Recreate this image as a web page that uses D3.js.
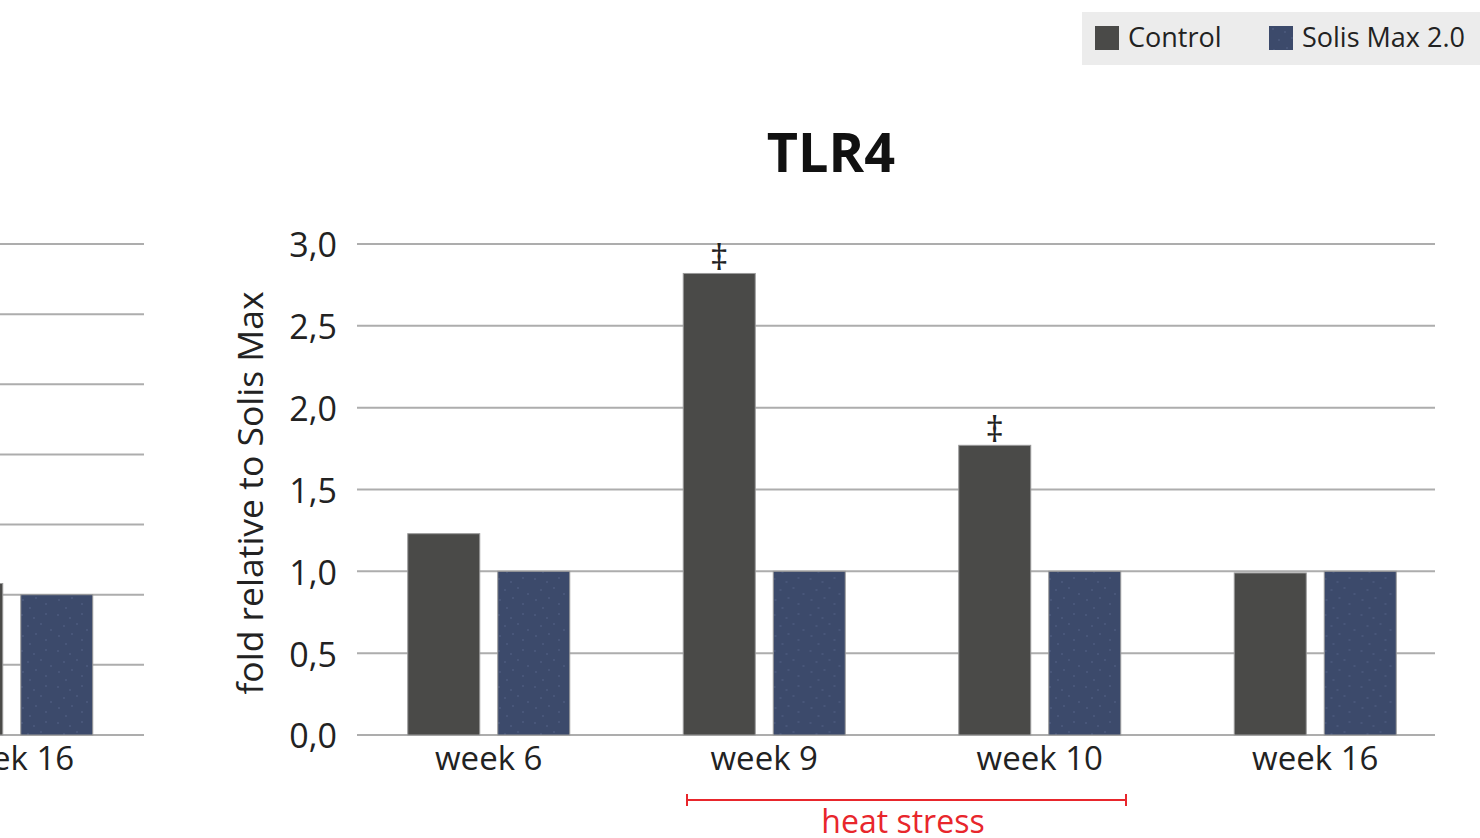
<!DOCTYPE html>
<html>
<head>
<meta charset="utf-8">
<script src="https://cdn.jsdelivr.net/npm/d3@7"></script>
<style>
  body { margin: 0; background: #fff; }
  text { font-family: "Open Sans", sans-serif; }
</style>
</head>
<body>
<div id="chart"></div>
<script>
// chart data
var weeks = ["week 6", "week 9", "week 10", "week 16"];
var controlValues = [1.23, 2.82, 1.77, 0.99];
var solisValues = [1.0, 1.0, 1.0, 1.0];
var significance = ["", "‡", "‡", ""];
var yTicks = [0, 0.5, 1.0, 1.5, 2.0, 2.5, 3.0];
var seriesNames = ["Control", "Solis Max 2.0"];

// the neighbouring chart, cut off at the left edge
var leftWeeks = ["week 16"];
var leftControl = [1.08];
var leftSolis = [1.0];
var leftTicks = [0, 0.5, 1.0, 1.5, 2.0, 2.5, 3.0, 3.5];

var svgWidth = 1480;
var svgHeight = 838;
var colors = { control: "#4a4a48", solis: "#3c4a6b" };

var svg = d3.select("#chart")
  .append("svg")
  .attr("width", svgWidth)
  .attr("height", svgHeight);

// dotted texture for the Solis bars
var defs = svg.append("defs");
var pat = defs.append("pattern")
  .attr("id", "dots")
  .attr("patternUnits", "userSpaceOnUse")
  .attr("width", 36)
  .attr("height", 36);
pat.append("rect").attr("width", 36).attr("height", 36).attr("fill", colors.solis);
var dotPos = [[4, 3], [16, 6], [28, 2], [10, 14], [23, 12], [33, 18], [5, 24], [18, 22], [28, 28], [12, 32]];
pat.selectAll("circle")
  .data(dotPos)
  .enter()
  .append("circle")
  .attr("cx", d => d[0])
  .attr("cy", d => d[1])
  .attr("r", 0.8)
  .attr("fill", "#56658a");

var y = d3.scaleLinear().domain([0, 3]).range([735, 244]);

// main chart
var x = d3.scaleBand().domain(weeks).range([351, 1453]);
var inner = d3.scaleBand().domain(["control", "solis"]).range([x.bandwidth() / 2 - 81, x.bandwidth() / 2 + 81]).paddingInner(0.2);

var main = svg.append("g");

main.append("g")
  .selectAll("line")
  .data(yTicks)
  .enter()
  .append("line")
  .attr("x1", 357)
  .attr("x2", 1435)
  .attr("y1", d => y(d))
  .attr("y2", d => y(d))
  .attr("stroke", "#adadad")
  .attr("stroke-width", 2);

var yAxis = d3.axisLeft(y)
  .tickValues(yTicks)
  .tickSize(0)
  .tickPadding(20)
  .tickFormat(d => d3.format(".1f")(d).replace(".", ","));

main.append("g")
  .attr("transform", "translate(357,2)")
  .call(yAxis)
  .call(g => g.select(".domain").remove())
  .selectAll("text")
  .attr("font-size", 34)
  .attr("font-family", "Open Sans")
  .attr("fill", "#222");

var xAxis = d3.axisBottom(x).tickSize(0).tickPadding(12);
main.append("g")
  .attr("transform", "translate(0,735)")
  .call(xAxis)
  .call(g => g.select(".domain").remove())
  .selectAll("text")
  .attr("font-size", 33)
  .attr("font-family", "Open Sans")
  .attr("fill", "#222");

var groups = main.selectAll(".grp")
  .data(weeks)
  .enter()
  .append("g")
  .attr("class", "grp")
  .attr("transform", d => `translate(${x(d)},0)`);

groups.append("rect")
  .attr("x", inner("control"))
  .attr("width", inner.bandwidth())
  .attr("y", (d, i) => y(controlValues[i]))
  .attr("height", (d, i) => y(0) - y(controlValues[i]))
  .attr("fill", colors.control)
  .attr("stroke", "#9a9a9a")
  .attr("stroke-width", 1);

groups.append("rect")
  .attr("x", inner("solis"))
  .attr("width", inner.bandwidth())
  .attr("y", (d, i) => y(solisValues[i]))
  .attr("height", (d, i) => y(0) - y(solisValues[i]))
  .attr("fill", "url(#dots)")
  .attr("stroke", "#9a9a9a")
  .attr("stroke-width", 1);

groups.append("text")
  .attr("x", inner("control") + inner.bandwidth() / 2)
  .attr("y", (d, i) => y(controlValues[i]) - 3)
  .attr("text-anchor", "middle")
  .attr("font-size", 36)
  .attr("font-family", "DejaVu Sans")
  .attr("fill", "#222")
  .text((d, i) => significance[i]);

main.append("text")
  .attr("transform", "translate(263,493) rotate(-90)")
  .attr("text-anchor", "middle")
  .attr("font-size", 35.5)
  .attr("fill", "#222")
  .text("fold relative to Solis Max");

main.append("text")
  .attr("x", 831)
  .attr("y", 172)
  .attr("text-anchor", "middle")
  .attr("font-size", 54)
  .attr("font-weight", "bold")
  .attr("fill", "#111")
  .text("TLR4");

// heat stress bracket
var hs = main.append("g").attr("stroke", "#e8262c").attr("stroke-width", 2);
hs.append("line").attr("x1", 687).attr("x2", 1126).attr("y1", 800).attr("y2", 800);
hs.append("line").attr("x1", 687).attr("x2", 687).attr("y1", 794).attr("y2", 806);
hs.append("line").attr("x1", 1126).attr("x2", 1126).attr("y1", 794).attr("y2", 806);
main.append("text")
  .attr("x", 903)
  .attr("y", 833)
  .attr("text-anchor", "middle")
  .attr("font-size", 32)
  .attr("fill", "#e8262c")
  .text("heat stress");

// left partial chart
var yLeft = d3.scaleLinear().domain([0, 3.5]).range([735, 244]);
var xLeft = d3.scaleBand().domain(leftWeeks).range([-126, 148]);
var left = svg.append("g");

left.selectAll("line")
  .data(leftTicks)
  .enter()
  .append("line")
  .attr("x1", 0)
  .attr("x2", 144)
  .attr("y1", d => yLeft(d))
  .attr("y2", d => yLeft(d))
  .attr("stroke", "#adadad")
  .attr("stroke-width", 2);

var lg = left.selectAll(".lgrp")
  .data(leftWeeks)
  .enter()
  .append("g")
  .attr("transform", d => `translate(${xLeft(d)},0)`);

lg.append("rect")
  .attr("x", inner("control"))
  .attr("width", inner.bandwidth())
  .attr("y", (d, i) => yLeft(leftControl[i]))
  .attr("height", (d, i) => yLeft(0) - yLeft(leftControl[i]))
  .attr("fill", colors.control)
  .attr("stroke", "#9a9a9a");

lg.append("rect")
  .attr("x", inner("solis"))
  .attr("width", inner.bandwidth())
  .attr("y", (d, i) => yLeft(leftSolis[i]))
  .attr("height", (d, i) => yLeft(0) - yLeft(leftSolis[i]))
  .attr("fill", "url(#dots)")
  .attr("stroke", "#9a9a9a");

left.append("g")
  .attr("transform", "translate(0,735)")
  .call(d3.axisBottom(xLeft).tickSize(0).tickPadding(12))
  .call(g => g.select(".domain").remove())
  .selectAll("text")
  .attr("font-size", 33)
  .attr("font-family", "Open Sans")
  .attr("fill", "#222");

// legend
var legend = svg.append("g");
legend.append("rect")
  .attr("x", 1082).attr("y", 12)
  .attr("width", 400).attr("height", 53)
  .attr("fill", "#ececec");

var legendX = [1095, 1269];
var legendItems = legend.selectAll(".li")
  .data(seriesNames)
  .enter()
  .append("g")
  .attr("transform", (d, i) => `translate(${legendX[i]},26)`);

legendItems.append("rect")
  .attr("width", 24)
  .attr("height", 24)
  .attr("fill", (d, i) => i === 0 ? colors.control : "url(#dots)");

legendItems.append("text")
  .attr("x", 33)
  .attr("y", 21)
  .attr("font-size", 27)
  .attr("fill", "#222")
  .text(d => d);
</script>
</body>
</html>
